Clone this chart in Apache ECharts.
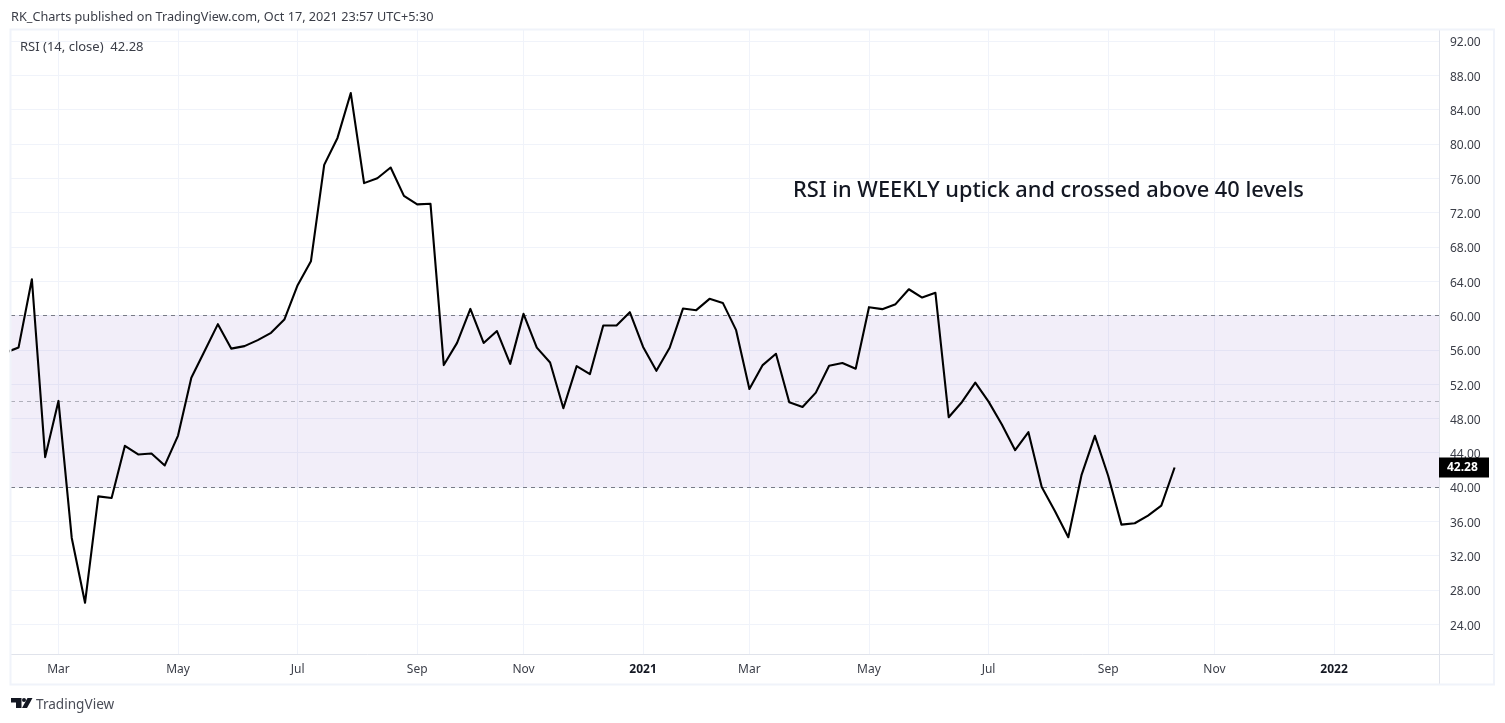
<!DOCTYPE html>
<html>
<head>
<meta charset="utf-8">
<style>html,body{margin:0;padding:0;background:#fff}#c{width:1505px;height:723px}</style>
<script src="https://cdn.jsdelivr.net/npm/echarts@6/dist/echarts.min.js"></script>
</head>
<body>
<div id="c"></div>
<script>
const headerText = 'RK_Charts published on TradingView.com, Oct 17, 2021 23:57 UTC+5:30';
const legendText = 'RSI (14, close)  42.28';
const noteText = 'RSI in WEEKLY uptick and crossed above 40 levels';
const brandText = 'TradingView';

const weeks = [
 '2020-02-03','2020-02-10','2020-02-17','2020-02-24','2020-03-02','2020-03-09','2020-03-16','2020-03-23','2020-03-30',
 '2020-04-06','2020-04-13','2020-04-20','2020-04-27','2020-05-04','2020-05-11','2020-05-18','2020-05-25','2020-06-01',
 '2020-06-08','2020-06-15','2020-06-22','2020-06-29','2020-07-06','2020-07-13','2020-07-20','2020-07-27','2020-08-03',
 '2020-08-10','2020-08-17','2020-08-24','2020-08-31','2020-09-07','2020-09-14','2020-09-21','2020-09-28','2020-10-05',
 '2020-10-12','2020-10-19','2020-10-26','2020-11-02','2020-11-09','2020-11-16','2020-11-23','2020-11-30','2020-12-07',
 '2020-12-14','2020-12-21','2020-12-28','2021-01-04','2021-01-11','2021-01-18','2021-01-25','2021-02-01','2021-02-08',
 '2021-02-15','2021-02-22','2021-03-01','2021-03-08','2021-03-15','2021-03-22','2021-03-29','2021-04-05','2021-04-12',
 '2021-04-19','2021-04-26','2021-05-03','2021-05-10','2021-05-17','2021-05-24','2021-05-31','2021-06-07','2021-06-14',
 '2021-06-21','2021-06-28','2021-07-05','2021-07-12','2021-07-19','2021-07-26','2021-08-02','2021-08-09','2021-08-16',
 '2021-08-23','2021-08-30','2021-09-06','2021-09-13','2021-09-20','2021-09-27','2021-10-04','2021-10-11'
];
const rsi = [
 55.66,56.28,64.22,43.49,50.04,34.07,26.51,38.91,38.72,
 44.81,43.80,43.91,42.52,46.00,52.75,55.85,58.99,56.14,
 56.43,57.13,57.98,59.53,63.53,66.32,77.56,80.70,85.93,
 75.43,76.00,77.25,73.95,72.95,73.02,54.22,56.81,60.77,
 56.80,58.19,54.36,60.19,56.25,54.52,49.19,54.09,53.17,
 58.84,58.84,60.39,56.33,53.55,56.24,60.81,60.62,61.94,
 61.47,58.29,51.43,54.22,55.54,49.88,49.34,51.01,54.15,
 54.46,53.80,60.97,60.74,61.32,63.06,62.09,62.64,48.14,
 49.92,52.17,49.96,47.30,44.30,46.40,40.00,37.17,34.15,
 41.43,45.97,41.32,35.62,35.78,36.67,37.83,42.28
];
const monthTicks = ['2020-03-02','2020-05-04','2020-07-06','2020-09-07','2020-11-02','2021-01-04','2021-03-01','2021-05-03','2021-07-05','2021-09-06','2021-11-01','2022-01-03'];
const monthLabels = ['Mar','May','Jul','Sep','Nov','2021','Mar','May','Jul','Sep','Nov','2022'];
const yTicks = [24,28,32,36,40,44,48,52,56,60,64,68,72,76,80,84,88,92];
const bandLevels = [60,50,40];
const bandRange = [40,60];
const xRange = ['2020-02-06','2022-02-27T07:00:00Z'];
const yRange = [20.54,93.28];
const lastValue = 42.28;

const ts = s => +new Date(s);
const tickTs = monthTicks.map(ts);
const font = '"Noto Sans", sans-serif';
const textCol = '#3a3d47';

const chart = echarts.init(document.getElementById('c'), null, {renderer:'canvas'});
chart.setOption({
  animation:false,
  backgroundColor:'#fff',
  grid:{left:11,top:30,width:1428,height:624,containLabel:false},
  xAxis:{
    type:'value',min:ts(xRange[0]),max:ts(xRange[1]),
    axisLine:{show:true,lineStyle:{color:'#e0e3eb',width:1}},
    axisTick:{show:false,customValues:tickTs},
    axisLabel:{
      customValues:tickTs,margin:10,fontSize:12,fontFamily:font,color:textCol,hideOverlap:false,
      formatter:v=>{
        const l=monthLabels[tickTs.indexOf(+v)];
        return /^\d/.test(l)?'{b|'+l+'}':l;
      },
      rich:{b:{fontWeight:'bold',fontSize:12,fontFamily:font,color:'#131722'}}
    },
    splitLine:{show:true,lineStyle:{color:'#f0f3fa',width:1}}
  },
  yAxis:{
    type:'value',position:'right',min:yRange[0],max:yRange[1],
    axisLine:{show:true,lineStyle:{color:'#e0e3eb',width:1}},
    axisTick:{show:false,customValues:yTicks},
    axisLabel:{customValues:yTicks,margin:11,
      formatter:v=>'{a|'+(+v).toFixed(2)+'}',
      rich:{a:{fontSize:12,fontFamily:font,color:textCol,padding:[4,0,0,0]}}},
    splitLine:{show:true,lineStyle:{color:'#f0f3fa',width:1}}
  },
  series:[{
    type:'line',
    data:weeks.map((d,i)=>[ts(d),rsi[i]]),
    symbol:'none',
    lineStyle:{color:'#000',width:2.1,join:'round'},
    z:5,
    markArea:{silent:true,itemStyle:{color:'rgba(126,87,194,0.1)'},data:[[{yAxis:bandRange[1]},{yAxis:bandRange[0]}]]},
    markLine:{
      silent:true,symbol:'none',
      label:{show:false},
      data:bandLevels.map(v=>({yAxis:v,lineStyle:{color:'#787b86',width:1,type:[4,4],opacity:v===50?0.55:1}}))
    }
  },{
    type:'line',data:[[ts(weeks[weeks.length-1]),lastValue]],clip:false,symbol:'none',z:20,
    lineStyle:{opacity:0},
    markLine:{
      silent:true,symbol:'none',z:20,
      lineStyle:{color:'rgba(0,0,0,0)',width:1,opacity:1},
      label:{show:true,position:'end',distance:0,opacity:1,formatter:lastValue.toFixed(2),backgroundColor:'#000',color:'#fff',
        fontWeight:'bold',fontSize:12,fontFamily:font,width:42,align:'left',height:20,lineHeight:20,padding:[0,0,0,8]},
      data:[{yAxis:lastValue}]
    }
  }],
  graphic:[
    {type:'rect',z:50,silent:true,shape:{x:0,y:28,width:9.5,height:658},style:{fill:'#fff'}},
    {type:'rect',z:51,silent:true,shape:{x:10.5,y:29.5,width:1483.5,height:655},style:{fill:'none',stroke:'#f0f3fa',lineWidth:2}},
    {type:'line',silent:true,shape:{x1:1439.5,y1:654,x2:1439.5,y2:684},style:{stroke:'#e0e3eb',lineWidth:1}},
    {type:'line',silent:true,shape:{x1:1439,y1:654.5,x2:1494,y2:654.5},style:{stroke:'#e0e3eb',lineWidth:1}},
    {type:'text',z:100,x:11,y:11,style:{text:headerText,font:'12.7px '+font,fill:'#3a3d47'}},
    {type:'text',z:100,x:20,y:41,style:{text:legendText,font:'13px '+font,fill:'#3a3d47'}},
    {type:'text',z:100,x:793,y:180,style:{text:noteText,font:'500 21.8px '+font,fill:'#131722'}},
    {type:'text',z:100,x:36,y:698,style:{text:brandText,font:'13.6px '+font,fill:'#4a4d57'}},
    {type:'polygon',z:100,silent:true,shape:{points:[[11,698],[21.5,698],[21.5,708],[16,708],[16,702.5],[11,702.5]]},style:{fill:'#131722'}},
    {type:'circle',z:100,silent:true,shape:{cx:24,cy:700,r:2},style:{fill:'#131722'}},
    {type:'polygon',z:100,silent:true,shape:{points:[[27.5,698],[32.5,698],[27,708],[22,708]]},style:{fill:'#131722'}}
  ]
});
</script>
</body>
</html>
